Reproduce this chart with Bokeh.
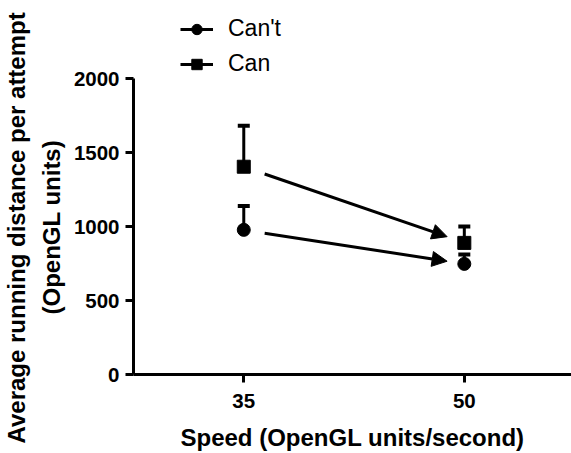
from bokeh.plotting import figure
from bokeh.models import (Range1d, ColumnDataSource, Whisker, TeeHead, Arrow,
                          NormalHead, Legend, LegendItem, FixedTicker, Title)
from bokeh.embed import file_html
from bokeh.resources import INLINE

# ---- data ----
speed = [35, 50]
cant_mean = [978, 748]
cant_sem = [162, 63]
can_mean = [1405, 890]
can_sem = [277, 110]
x_ticks = [35, 50]
y_ticks = [0, 500, 1000, 1500, 2000]
series_names = ["Can't", "Can"]
y_title_lines = ["Average running distance per attempt", "(OpenGL units)"]
x_title = "Speed (OpenGL units/second)"

# annotation arrows (data coordinates)
arrow_x_start = [36.42, 36.42]
arrow_y_start = [1356, 955]
arrow_x_end = [48.83, 48.83]
arrow_y_end = [932, 766]

FONT = "Liberation Sans"

p = figure(width=571, height=453, output_backend="svg", toolbar_location=None,
           x_range=Range1d(27.5, 57.29), y_range=Range1d(0, 2529),
           min_border_left=131, min_border_right=0, min_border_top=0,
           min_border_bottom=79)
p.outline_line_color = None
p.xgrid.visible = False
p.ygrid.visible = False
p.background_fill_color = "white"
p.border_fill_color = "white"

for ax in (p.xaxis[0], p.yaxis[0]):
    ax.axis_line_width = 3
    ax.axis_line_color = "black"
    ax.major_tick_line_width = 3
    ax.major_tick_line_color = "black"
    ax.minor_tick_line_color = None
    ax.major_tick_in = 0
    ax.major_label_text_font = FONT
    ax.major_label_text_font_style = "bold"
    ax.major_label_text_font_size = "20.5px"
    ax.major_label_text_color = "black"
    ax.axis_label_text_font = FONT
    ax.axis_label_text_font_style = "bold"
    ax.axis_label_text_font_size = "24px"
    ax.axis_label_text_color = "black"

p.xaxis.ticker = FixedTicker(ticks=x_ticks)
p.yaxis.ticker = FixedTicker(ticks=y_ticks)
p.yaxis.bounds = (0, 2000)
p.xaxis.major_tick_out = 8
p.yaxis.major_tick_out = 8
p.xaxis.major_label_standoff = 11
p.yaxis.major_label_standoff = 6
p.xaxis.axis_label = x_title
p.xaxis.axis_label_standoff = 13

# y-axis title as two stacked left-side titles (anchored from the frame bottom)
t2 = Title(text=y_title_lines[1], align="left", offset=60, standoff=12,
           text_font=FONT, text_font_style="bold",
           text_font_size="24px", text_color="black")
t1 = Title(text=y_title_lines[0], align="left", offset=-69, standoff=0,
           text_font=FONT, text_font_style="bold",
           text_font_size="24px", text_color="black")
p.add_layout(t2, "left")
p.add_layout(t1, "left")

cant_src = ColumnDataSource(dict(x=speed, y=cant_mean,
                                 upper=[m + s for m, s in zip(cant_mean, cant_sem)]))
can_src = ColumnDataSource(dict(x=speed, y=can_mean,
                                upper=[m + s for m, s in zip(can_mean, can_sem)]))

for src in (cant_src, can_src):
    w = Whisker(source=src, base="x", lower="y", upper="upper",
                line_width=3, line_color="black",
                upper_head=TeeHead(size=12, line_width=4, line_color="black"),
                lower_head=None)
    p.add_layout(w)

arrow_src = ColumnDataSource(dict(xs=arrow_x_start, ys=arrow_y_start,
                                  xe=arrow_x_end, ye=arrow_y_end))
p.add_layout(Arrow(source=arrow_src, x_start="xs", y_start="ys",
                   x_end="xe", y_end="ye", line_width=3, line_color="black",
                   end=NormalHead(size=15, fill_color="black", line_color="black",
                                  line_width=1)))

# legend-only connecting lines (no visible data)
nan = float("nan")
l1 = p.line(x=[nan, nan], y=[nan, nan], line_width=3, line_color="black")
l2 = p.line(x=[nan, nan], y=[nan, nan], line_width=3, line_color="black")
c1 = p.scatter(x="x", y="y", source=cant_src, marker="circle", size=13,
               fill_color="black", line_color="black")
c2 = p.scatter(x="x", y="y", source=can_src, marker="square", size=13,
               fill_color="black", line_color="black")

legend = Legend(items=[LegendItem(label=series_names[0], renderers=[l1, c1]),
                       LegendItem(label=series_names[1], renderers=[l2, c2])],
                location=(47, 297), padding=0, margin=0, spacing=8,
                glyph_width=33, glyph_height=26, label_height=26,
                label_standoff=15, label_text_font=FONT,
                label_text_font_size="23px", label_text_color="black",
                border_line_color=None, background_fill_alpha=0)
p.add_layout(legend, "center")

open("out.html", "w").write(file_html(p, INLINE))
